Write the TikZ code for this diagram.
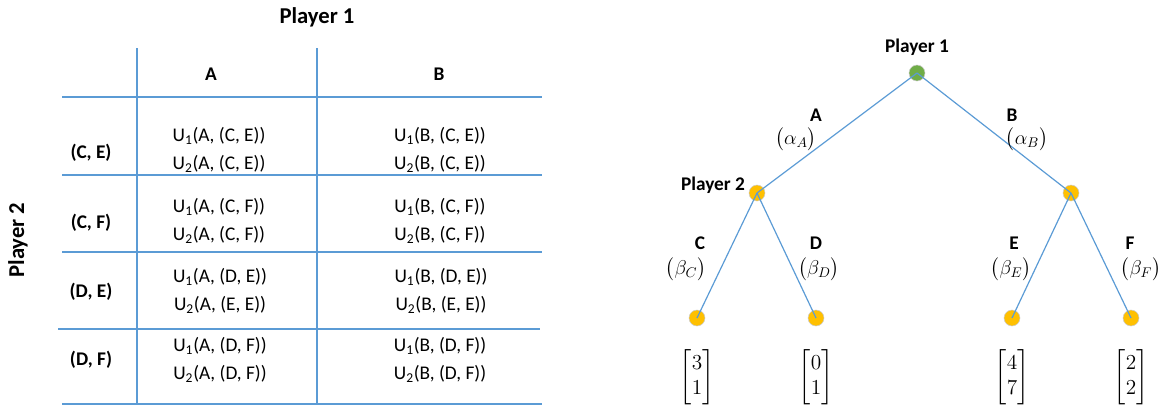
\RequirePackage{fix-cm}
\documentclass[tikz,border=0pt]{standalone}
\usepackage{amsmath}
\usepackage[no-math]{fontspec}
\setmainfont{Carlito}
\usepackage{tikz}
\usetikzlibrary{positioning}

\definecolor{bleuligne}{HTML}{5B9BD5}
\definecolor{vertnoeud}{HTML}{70AD47}
\definecolor{jaunenoeud}{HTML}{FFC000}

\begin{document}
\begin{tikzpicture}[
        % Repère en pixels (y vers le bas)
        x=0.75pt, y=-0.75pt,
        every node/.style = {inner sep=0pt, font=\fontsize{14.5}{17}\selectfont},
        % Style des traits du tableau
        grille/.style = {draw=bleuligne, line width=1.3pt},
        % Titres des joueurs
        titre/.style = {font=\fontsize{17}{20}\selectfont\bfseries},
        % En-têtes et étiquettes en gras
        entete/.style = {font=\fontsize{14.5}{17}\selectfont\bfseries},
        % Cases du tableau (deux lignes)
        cellule/.style = {align=center, font=\fontsize{14.5}{20.5}\selectfont},
        % Noeuds de l'arbre
        noeud/.style = {circle, minimum size=12pt, fill=jaunenoeud, draw=black!20, line width=0.4pt},
        racine/.style = {noeud, fill=vertnoeud},
        % Branches de l'arbre
        branche/.style = {draw=bleuligne, line width=0.9pt},
        % Probabilités et gains
        proba/.style = {font=\fontsize{15}{18}\selectfont},
        gain/.style = {font=\fontsize{16}{19}\selectfont}
    ]
        \useasboundingbox (0,0) rectangle (1166,412);

        % 1. Tableau (forme normale)
        \node (titre1) [titre] at (317,17) {Player 1};
        \node (titre2) [titre, rotate=90] at (18,240) {Player 2};

        \foreach \y in {97,175,252,404}
            \draw [grille] (62,\y) -- (542,\y);
        \draw [grille] (58,329) -- (540,329);
        \draw [grille] (137,48) -- (137,404);
        \draw [grille] (317,48) -- (317,404);

        \node (colA) [entete] at (211,74) {A};
        \node (colB) [entete] at (439,74) {B};

        \node (ligCE) [entete] at (91,153) {(C, E)};
        \node (ligCF) [entete] at (91,223) {(C, F)};
        \node (ligDE) [entete] at (91,292) {(D, E)};
        \node (ligDF) [entete] at (91,360) {(D, F)};

        \node (aCE) [cellule] at (219,150) {U\textsubscript{1}(A, (C, E))\\U\textsubscript{2}(A, (C, E))};
        \node (bCE) [cellule] at (440,150) {U\textsubscript{1}(B, (C, E))\\U\textsubscript{2}(B, (C, E))};
        \node (aCF) [cellule] at (219,221) {U\textsubscript{1}(A, (C, F))\\U\textsubscript{2}(A, (C, F))};
        \node (bCF) [cellule] at (440,221) {U\textsubscript{1}(B, (C, F))\\U\textsubscript{2}(B, (C, F))};
        \node (aDE) [cellule] at (220,291) {U\textsubscript{1}(A, (D, E))\\U\textsubscript{2}(A, (E, E))};
        \node (bDE) [cellule] at (441,291) {U\textsubscript{1}(B, (D, E))\\U\textsubscript{2}(B, (E, E))};
        \node (aDF) [cellule] at (220,360) {U\textsubscript{1}(A, (D, F))\\U\textsubscript{2}(A, (D, F))};
        \node (bDF) [cellule] at (440,360) {U\textsubscript{1}(B, (D, F))\\U\textsubscript{2}(B, (D, F))};

        % 2. Arbre (forme extensive)
        \node (j1)  [racine] at (917,73)  {};
        \node (j2g) [noeud]  at (757,193) {};
        \node (j2d) [noeud]  at (1071,193) {};
        \node (fC)  [noeud]  at (697,318) {};
        \node (fD)  [noeud]  at (816,318) {};
        \node (fE)  [noeud]  at (1012,318) {};
        \node (fF)  [noeud]  at (1131,318) {};

        \draw [branche] (j1.center) -- (j2g.center);
        \draw [branche] (j1.center) -- (j2d.center);
        \draw [branche] (j2g.center) -- (fC.center);
        \draw [branche] (j2g.center) -- (fD.center);
        \draw [branche] (j2d.center) -- (fE.center);
        \draw [branche] (j2d.center) -- (fF.center);

        \node (nomj1) [entete] at (917,47) {Player 1};
        \node (nomj2) [entete] at (713,185) {Player 2};

        % 3. Actions et probabilités
        \node (actA) [entete] at (816,115) {A};
        \node (actB) [entete] at (1012,115) {B};
        \node (actC) [entete] at (700,243) {C};
        \node (actD) [entete] at (816,243) {D};
        \node (actE) [entete] at (1014,243) {E};
        \node (actF) [entete] at (1130,243) {F};

        \node (pA) [proba] at (796,139) {$\bigl(\alpha_{A}\bigr)$};
        \node (pB) [proba] at (1027,139) {$\bigl(\alpha_{B}\bigr)$};
        \node (pC) [proba] at (686,269) {$\bigl(\beta_{C}\bigr)$};
        \node (pD) [proba] at (819,269) {$\bigl(\beta_{D}\bigr)$};
        \node (pE) [proba] at (1011,269) {$\bigl(\beta_{E}\bigr)$};
        \node (pF) [proba] at (1141,269) {$\bigl(\beta_{F}\bigr)$};

        % 4. Gains
        \node (gC) [gain] at (697,377) {$\begin{bmatrix}3\\1\end{bmatrix}$};
        \node (gD) [gain] at (816,377) {$\begin{bmatrix}0\\1\end{bmatrix}$};
        \node (gE) [gain] at (1012,377) {$\begin{bmatrix}4\\7\end{bmatrix}$};
        \node (gF) [gain] at (1131,377) {$\begin{bmatrix}2\\2\end{bmatrix}$};

    \end{tikzpicture}
\end{document}
